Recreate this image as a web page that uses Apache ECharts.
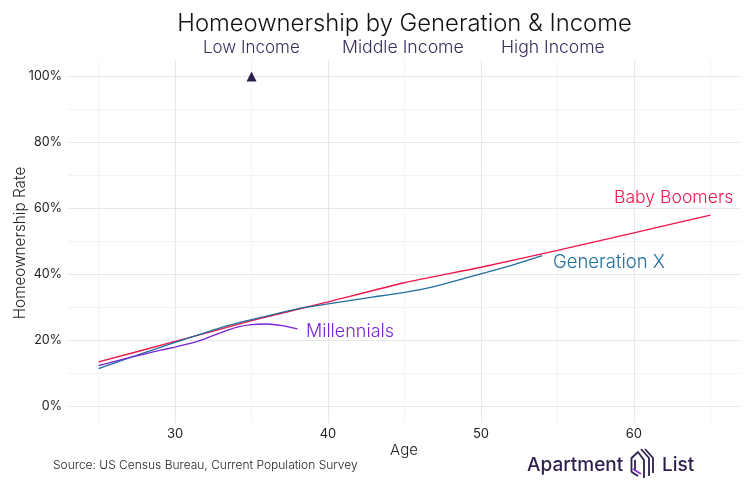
<!DOCTYPE html>
<html><head><meta charset="utf-8">
<style>html,body{margin:0;padding:0;background:#fff}#c{width:755px;height:500px}</style>
<script src="https://cdn.jsdelivr.net/npm/echarts@6/dist/echarts.min.js"></script>
</head><body><div id="c"></div>
<script>
const boomerAges = [25,30,35,40,45,50,55,60,65];
const boomerRate = [13.5,19.7,26.0,31.7,37.5,42.2,47.3,52.6,58.0];
const genXAges = [25,27,30,33,35,38,40,43,45,47,50,52,54];
const genXRate = [11.5,14.7,19.4,23.9,26.3,29.6,31.1,33.2,34.6,36.4,40.2,42.8,45.7];
const millennialAges = [25,26,27,28,29,30,31,32,33,34,35,36,37,38];
const millennialRate = [12.4,13.6,14.8,15.9,17.0,18.0,19.1,20.6,22.4,24.0,24.8,25.0,24.5,23.5];
const markerAge = [35];
const markerRate = [100];
const xMajor = [30,40,50,60];
const xMinor = [25,35,45,55,65];
const yMajor = [0,20,40,60,80,100];
const yMinor = [10,30,50,70,90];
const FONT = 'Inter';
const pairs = (a,b)=>a.map((v,i)=>[v,b[i]]);
const lineSeries = (name,a,b,color)=>({name,type:'line',data:pairs(a,b),smooth:0.15,showSymbol:false,symbol:'none',
  lineStyle:{color,width:1.3},xAxisIndex:0,yAxisIndex:0,z:3});
const txt = (text,x,y,size,fill,extra)=>({type:'text',x,y,silent:true,z:100,
  style:Object.assign({text,fontFamily:FONT,fontSize:size,fontWeight:400,fill,textVerticalAlign:'middle'},extra||{})});
const logoLine = (points,stroke,w)=>({type:'polyline',silent:true,z:100,shape:{points},style:{stroke,lineWidth:w||1.8,fill:'none'}});
const xAx = (vals,color,show)=>({type:'value',min:23,max:67,position:'bottom',
  axisLine:{show:false},axisTick:{show:false,customValues:vals},
  axisLabel:{show,customValues:vals,fontFamily:FONT,fontSize:13,fontWeight:400,color:'#222',margin:5,formatter:v=>String(v)},
  splitLine:{show:true,lineStyle:{color,width:1}}});
const yAx = (vals,color,show)=>({type:'value',min:-5,max:105,
  axisLine:{show:false},axisTick:{show:false,customValues:vals},
  axisLabel:{show,customValues:vals,fontFamily:FONT,fontSize:12.5,fontWeight:400,color:'#222',margin:6,padding:[4,0,0,0],formatter:v=>v+'%'},
  splitLine:{show:true,lineStyle:{color,width:1}}});
const chart = echarts.init(document.getElementById('c'),null,{renderer:'canvas'});
chart.setOption({
  animation:false,backgroundColor:'#fff',
  grid:{left:68,right:14,top:60,bottom:77},
  xAxis:[xAx(xMajor,'#e8e8ea',true),xAx(xMinor,'#f3f3f4',false)],
  yAxis:[yAx(yMajor,'#e8e8ea',true),yAx(yMinor,'#f3f3f4',false)],
  series:[
    lineSeries('Baby Boomers',boomerAges,boomerRate,'#f0144b'),
    lineSeries('Generation X',genXAges,genXRate,'#1f6f9f'),
    lineSeries('Millennials',millennialAges,millennialRate,'#7b22d6'),
    {name:'Marker',type:'scatter',data:pairs(markerAge,markerRate),symbol:'triangle',symbolSize:10,
     itemStyle:{color:'#2e1f4d',opacity:1},z:4}
  ],
  graphic:[
    txt('Homeownership by Generation & Income',404.5,24,23.8,'#111',{textAlign:'center',fontWeight:300}),
    txt('Low Income',203,48,17,'#3a2b5c',{fontWeight:300}),
    txt('Middle Income',342,48,17.7,'#3a2b5c',{fontWeight:300}),
    txt('High Income',501,48,17.6,'#3a2b5c',{fontWeight:300}),
    txt('Baby Boomers',614,198,17.6,'#f0144b',{fontWeight:300}),
    txt('Generation X',553,262.5,18.5,'#1f6f9f',{fontWeight:300}),
    txt('Millennials',306,332,18,'#7b22d6',{fontWeight:300}),
    txt('Age',404,450,15,'#222',{textAlign:'center',fontWeight:300}),
    Object.assign(txt('Homeownership Rate',20,243,15.3,'#222',{textAlign:'center',fontWeight:300}),{rotation:Math.PI/2}),
    txt('Source: US Census Bureau, Current Population Survey',53,465,12,'#222',{fontWeight:300}),
    txt('Apartment',527,465,19,'#2e1f4d',{fontWeight:500}),
    txt('List',662,465,19,'#2e1f4d',{fontWeight:500}),
    logoLine([[631.5,472],[631.5,458],[638,452],[644,460],[644,478]],'#2e1f4d'),
    logoLine([[631.5,472],[638,476]],'#2e1f4d'),
    logoLine([[635,460],[635,470]],'#2e1f4d'),
    logoLine([[633,469],[641,474]],'#8a35e0'),
    logoLine([[641,449],[649,458],[649,476]],'#2e1f4d'),
    logoLine([[645,449],[653,458],[653,473]],'#2e1f4d')
  ]
});
</script></body></html>
